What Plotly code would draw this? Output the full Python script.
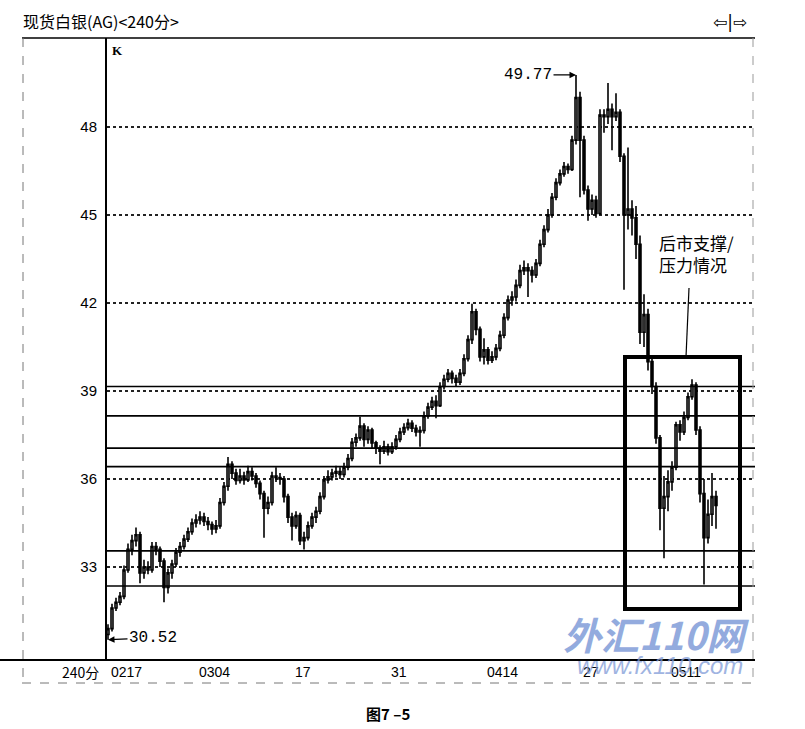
import plotly.graph_objects as go

title_text = "现货白银(AG)<240分>"
period_label = "240分"
note_text = "后市支撑/<br>压力情况"
caption_text = "图7 –5"

open_ = [30.7, 30.9, 31.6, 31.8, 32.0, 32.9, 33.6, 33.9, 34.1, 32.8,
         33.0, 32.9, 33.7, 33.6, 33.2, 32.3, 32.8, 33.1, 33.5, 33.7,
         33.95, 34.2, 34.5, 34.6, 34.7, 34.55, 34.45, 34.3, 34.4, 35.2,
         35.75, 36.5, 36.2, 35.95, 36.1, 35.97, 36.25, 36.1, 35.85, 35.5,
         35.0, 35.2, 36.1, 36.05, 36.0, 35.4, 34.7, 34.4, 34.75, 33.9,
         34.0, 34.4, 34.7, 34.9, 35.4, 35.97, 36.07, 36.2, 36.25, 36.15,
         36.4, 36.7, 37.25, 37.4, 37.8, 37.35, 37.67, 37.23, 37.05, 36.95,
         37.1, 36.93, 37.1, 37.35, 37.6, 37.75, 37.9, 37.73, 37.6, 37.65,
         38.15, 38.45, 38.65, 38.5, 39.15, 39.4, 39.6, 39.43, 39.3, 39.6,
         40.1, 40.75, 41.7, 41.1, 40.16, 40.4, 40.05, 40.16, 40.45, 40.9,
         41.5, 42.1, 42.2, 42.6, 43.1, 43.2, 43.1, 42.95, 43.35, 44.0,
         44.5, 45.0, 45.6, 46.1, 46.4, 46.65, 46.55, 47.55, 49.0, 47.55,
         45.85, 45.2, 45.5, 45.05, 48.4, 48.35, 48.6, 48.35, 48.5, 47.0,
         45.0, 45.2, 44.9, 44.0, 41.0, 41.6, 40.0, 39.15, 37.4, 35.0,
         35.4, 35.9, 36.4, 37.85, 37.6, 38.1, 38.8, 39.2, 37.67, 35.5,
         34.0, 34.8, 35.4]

high = [31.05, 31.75, 31.95, 32.15, 33.05, 33.8, 34.1, 34.35, 34.2, 33.25,
        33.2, 33.85, 33.85, 33.7, 33.3, 32.95, 33.25, 33.65, 33.85, 34.1,
        34.35, 34.65, 34.8, 34.9, 34.85, 34.7, 34.55, 34.6, 35.35, 35.9,
        36.75, 36.6, 36.35, 36.35, 36.25, 36.45, 36.4, 36.2, 35.95, 35.6,
        35.4, 36.25, 36.4, 36.2, 36.1, 35.5, 34.85, 34.9, 34.85, 34.2,
        34.55, 34.85, 35.05, 35.55, 36.1, 36.3, 36.35, 36.45, 36.4, 36.55,
        36.85, 37.4, 37.55, 38.12, 37.9, 37.8, 37.75, 37.3, 37.15, 37.3,
        37.2, 37.25, 37.5, 37.75, 37.9, 38.05, 38.0, 37.85, 37.8, 38.3,
        38.6, 38.8, 38.85, 39.3, 39.55, 39.75, 39.7, 39.55, 39.75, 40.25,
        40.9, 41.97, 41.8, 41.2, 40.8, 40.5, 40.35, 40.6, 41.05, 41.65,
        42.25, 42.4, 42.8, 43.3, 43.45, 43.35, 43.25, 43.5, 44.15, 44.65,
        45.2, 45.75, 46.25, 46.55, 46.8, 46.75, 47.7, 49.77, 49.2, 47.7,
        46.0, 45.7, 45.65, 48.6, 48.6, 49.5, 48.8, 49.15, 48.6, 47.1,
        47.3, 45.5, 45.3, 44.3, 42.3, 41.8, 40.1, 39.3, 37.5, 36.1,
        36.3, 36.6, 37.95, 38.0, 38.3, 38.95, 39.4, 39.3, 37.8, 36.0,
        35.3, 36.2, 35.6]

low = [30.52, 30.8, 31.5, 31.7, 31.9, 32.8, 33.4, 33.7, 32.45, 32.6,
       32.75, 32.8, 33.4, 33.0, 31.8, 32.1, 32.6, 33.0, 33.35, 33.6,
       33.85, 34.1, 34.35, 34.45, 34.4, 34.25, 34.1, 34.15, 34.3, 35.1,
       35.6, 36.0, 35.8, 35.85, 35.8, 35.9, 35.95, 35.7, 35.3, 34.0,
       34.8, 35.1, 35.9, 35.8, 35.2, 34.5, 33.9, 34.3, 33.75, 33.6,
       33.9, 34.3, 34.5, 34.8, 35.3, 35.85, 35.95, 36.05, 36.0, 36.05,
       36.3, 36.6, 37.1, 37.3, 37.1, 37.2, 37.05, 36.85, 36.5, 36.85,
       36.8, 36.85, 37.0, 37.25, 37.5, 37.65, 37.6, 37.45, 37.1, 37.55,
       38.05, 38.35, 38.07, 38.45, 39.05, 39.3, 39.25, 39.15, 39.2, 39.5,
       40.0, 40.6, 40.9, 40.0, 39.9, 39.9, 39.95, 40.05, 40.35, 40.8,
       41.4, 41.9, 42.05, 42.5, 42.95, 42.2, 42.7, 42.85, 43.25, 43.9,
       44.4, 44.9, 45.5, 46.0, 46.3, 46.4, 46.5, 47.4, 45.6, 45.7,
       44.8, 45.0, 44.9, 45.0, 47.8, 48.1, 47.2, 48.2, 46.8, 42.45,
       44.5, 44.3, 43.5, 40.6, 40.5, 39.7, 38.9, 37.2, 34.25, 33.3,
       34.9, 35.6, 36.3, 37.3, 37.5, 38.0, 38.7, 37.5, 35.2, 32.4,
       33.8, 34.4, 34.3]

close = [30.9, 31.6, 31.8, 32.0, 32.9, 33.6, 33.9, 34.1, 32.8, 33.0,
         32.9, 33.7, 33.6, 33.2, 32.3, 32.8, 33.1, 33.5, 33.7, 33.95,
         34.2, 34.5, 34.6, 34.7, 34.55, 34.45, 34.3, 34.4, 35.2, 35.75,
         36.5, 36.2, 35.95, 36.1, 35.97, 36.25, 36.1, 35.85, 35.5, 35.0,
         35.2, 36.1, 36.05, 36.0, 35.4, 34.7, 34.4, 34.75, 33.9, 34.0,
         34.4, 34.7, 34.9, 35.4, 35.97, 36.07, 36.2, 36.25, 36.15, 36.4,
         36.7, 37.25, 37.4, 37.8, 37.35, 37.67, 37.23, 37.05, 36.95, 37.1,
         36.93, 37.1, 37.35, 37.6, 37.75, 37.9, 37.73, 37.6, 37.65, 38.15,
         38.45, 38.65, 38.5, 39.15, 39.4, 39.6, 39.43, 39.3, 39.6, 40.1,
         40.75, 41.7, 41.1, 40.16, 40.4, 40.05, 40.16, 40.45, 40.9, 41.5,
         42.1, 42.2, 42.6, 43.1, 43.2, 43.1, 42.95, 43.35, 44.0, 44.5,
         45.0, 45.6, 46.1, 46.4, 46.65, 46.55, 47.55, 49.0, 47.55, 45.85,
         45.2, 45.5, 45.05, 48.4, 48.35, 48.6, 48.35, 48.5, 47.0, 45.0,
         45.2, 44.9, 44.0, 41.0, 41.6, 40.0, 39.15, 37.4, 35.0, 35.4,
         35.9, 36.4, 37.85, 37.6, 38.1, 38.8, 39.2, 37.67, 35.5, 34.0,
         34.8, 35.4, 35.1]

ytick_vals = [33, 36, 39, 42, 45, 48]
xtick_idx = [0, 22, 46, 70, 94, 118, 140]
xtick_text = ["0217", "0304", "17", "31", "0414", "27", "0511"]
levels = [39.15, 38.15, 37.05, 36.42, 33.55, 32.35]
peak_val, peak_idx = 49.77, 117
trough_val, trough_idx = 30.52, 0

x = list(range(len(close)))

fig = go.Figure()
fig.add_trace(go.Candlestick(
    x=x, open=open_, high=high, low=low, close=close,
    increasing=dict(line=dict(color="black", width=1.6), fillcolor="white"),
    decreasing=dict(line=dict(color="black", width=1.6), fillcolor="black"),
    whiskerwidth=0, hoverinfo="skip", showlegend=False,
))

# paper coordinate helpers (plot area px: x 107..753, y 38..660)
def xp(px):
    return (px - 107) / 646.0

def yp(py):
    return (660 - py) / 622.0

shapes = []
for lv in levels:
    shapes.append(dict(type="line", xref="paper", yref="y", x0=0, x1=xp(755),
                       y0=lv, y1=lv, line=dict(color="black", width=1.6)))
# frame lines
shapes.append(dict(type="line", xref="paper", yref="paper", x0=xp(22), x1=xp(755),
                   y0=1, y1=1, line=dict(color="black", width=1.6)))
shapes.append(dict(type="line", xref="paper", yref="paper", x0=xp(0), x1=xp(755),
                   y0=0, y1=0, line=dict(color="black", width=2.2)))
shapes.append(dict(type="line", xref="paper", yref="paper", x0=xp(23), x1=xp(23),
                   y0=1, y1=yp(683), line=dict(color="#777", width=1, dash="dash")))
shapes.append(dict(type="line", xref="paper", yref="paper", x0=xp(753), x1=xp(753),
                   y0=1, y1=yp(683), line=dict(color="#999", width=1, dash="dash")))
shapes.append(dict(type="line", xref="paper", yref="paper", x0=xp(22), x1=xp(753),
                   y0=yp(683), y1=yp(683), line=dict(color="#777", width=1, dash="dash")))
# highlight box
shapes.append(dict(type="rect", xref="x", yref="y", x0=129.25, x1=158, y0=31.57, y1=40.16,
                   line=dict(color="black", width=4), fillcolor="rgba(0,0,0,0)"))
# pointer line
shapes.append(dict(type="line", xref="x", yref="y", x0=145.25, x1=144.5, y0=42.51, y1=40.16,
                   line=dict(color="black", width=1.2)))

annotations = []
annotations.append(dict(text=title_text, xref="paper", yref="paper", x=xp(21), y=yp(21),
                        xanchor="left", yanchor="middle", showarrow=False,
                        font=dict(family="Noto Sans CJK SC", size=16, color="black")))
annotations.append(dict(text="⇦|⇨", xref="paper", yref="paper", x=xp(730), y=yp(22),
                        xanchor="center", yanchor="middle", showarrow=False,
                        font=dict(family="DejaVu Sans", size=17, color="black")))
annotations.append(dict(text="<b>K</b>", xref="paper", yref="paper", x=xp(110), y=yp(50),
                        xanchor="left", yanchor="middle", showarrow=False,
                        font=dict(family="Liberation Serif", size=13, color="black")))
annotations.append(dict(text=period_label, xref="paper", yref="paper", x=xp(101), y=yp(672),
                        xanchor="right", yanchor="middle", showarrow=False,
                        font=dict(family="Noto Sans CJK SC", size=14, color="black")))
for idx, lab in zip(xtick_idx, xtick_text):
    annotations.append(dict(text=lab, xref="x", yref="paper", x=idx, y=yp(672),
                            xanchor="left", yanchor="middle", showarrow=False, xshift=1,
                            font=dict(family="Liberation Sans", size=14, color="black")))
annotations.append(dict(text=f"{peak_val:.2f}", xref="x", yref="y", x=peak_idx, y=peak_val,
                        ax=-48, ay=0, showarrow=True, arrowhead=2, arrowsize=1, arrowwidth=1.3,
                        arrowcolor="black",
                        font=dict(family="Liberation Mono", size=16, color="black")))
annotations.append(dict(text=f"{trough_val:.2f}", xref="x", yref="y", x=trough_idx, y=trough_val,
                        ax=45, ay=-2, showarrow=True, arrowhead=2, arrowsize=1, arrowwidth=1.3,
                        arrowcolor="black",
                        font=dict(family="Liberation Mono", size=16, color="black")))
annotations.append(dict(text=note_text, xref="x", yref="y", x=137.25, y=43.67,
                        xanchor="left", yanchor="middle", align="left", showarrow=False,
                        font=dict(family="Noto Sans CJK SC", size=17, color="black")))
annotations.append(dict(text="<b>" + caption_text + "</b>", xref="paper", yref="paper",
                        x=xp(388), y=yp(713), xanchor="center", yanchor="middle", showarrow=False,
                        font=dict(family="Noto Sans CJK SC", size=15, color="black")))
# site watermark present in the scan
annotations.append(dict(text="<b><i>外汇110网</i></b>", xref="paper", yref="paper",
                        x=xp(656), y=yp(633), xanchor="center", yanchor="middle", showarrow=False,
                        opacity=0.75,
                        font=dict(family="Noto Sans CJK SC", size=38, color="#6f8fd4")))
annotations.append(dict(text="<i>www.fx110.com</i>", xref="paper", yref="paper",
                        x=xp(660), y=yp(666), xanchor="center", yanchor="middle", showarrow=False,
                        opacity=0.75,
                        font=dict(family="Liberation Sans", size=24, color="#7f9bd8")))

fig.update_layout(
    width=805, height=729, autosize=False,
    margin=dict(l=107, r=52, t=38, b=69),
    paper_bgcolor="white", plot_bgcolor="white",
    showlegend=False,
    shapes=shapes, annotations=annotations,
    xaxis=dict(range=[-0.25, 161.25], showgrid=False, showticklabels=False, zeroline=False,
               showline=False, ticks="", rangeslider=dict(visible=False), fixedrange=True),
    yaxis=dict(range=[29.83, 51.03], tickvals=ytick_vals, ticktext=[str(v) for v in ytick_vals],
               showgrid=True, gridcolor="#222", griddash="dot", gridwidth=1.3,
               zeroline=False, showline=True, linecolor="black", linewidth=2, ticks="",
               ticklabelstandoff=5,
               tickfont=dict(family="Liberation Sans", size=15, color="black"), fixedrange=True),
)

fig.write_html("out.html", config={"displayModeBar": False, "staticPlot": True},
               post_script="document.body.style.margin='0';document.body.style.overflow='hidden';")
